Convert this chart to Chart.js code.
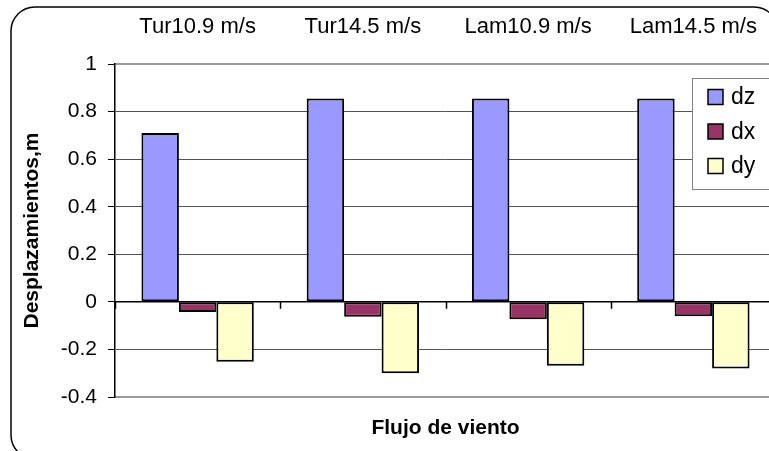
<!DOCTYPE html>
<html>
<head>
<meta charset="utf-8">
<script src="https://cdn.jsdelivr.net/npm/chart.js@4"></script>
<style>
  html, body { margin: 0; padding: 0; background: #fff; }
  #wrap { width: 769px; height: 451px; overflow: hidden; position: relative; }
  #box { width: 800px; height: 460px; position: absolute; left: 0; top: 0; }
</style>
</head>
<body>
<div id="wrap"><div id="box"><canvas id="myChart"></canvas></div></div>
<script>
const categories = ['Tur10.9 m/s', 'Tur14.5 m/s', 'Lam10.9 m/s', 'Lam14.5 m/s'];
const dz = [0.71, 0.855, 0.855, 0.855];
const dx = [-0.043, -0.063, -0.073, -0.061];
const dy = [-0.252, -0.30, -0.269, -0.28];
const yTicks = [-0.4, -0.2, 0, 0.2, 0.4, 0.6, 0.8, 1];

const FONT = "'Liberation Sans', Arial, sans-serif";

// frame, zero line ticks and legend drawn on top
const extras = {
  id: 'extras',
  afterDraw(chart) {
    const ctx = chart.ctx;
    const x = chart.scales.x;
    const y = chart.scales.y;
    const y0 = y.getPixelForValue(0);

    ctx.save();
    // zero line with category ticks
    ctx.strokeStyle = '#000';
    ctx.lineWidth = 1.5;
    ctx.beginPath();
    ctx.moveTo(chart.chartArea.left, y0);
    ctx.lineTo(chart.chartArea.right, y0);
    for (let i = 0; i <= categories.length; i++) {
      const px = Math.round(x.getPixelForValue(i - 0.5)) + 0.5;
      ctx.moveTo(px, y0);
      ctx.lineTo(px, y0 + 7);
    }
    ctx.stroke();

    // legend
    const lx = 692, ly = 78, lw = 77, lh = 111;
    ctx.fillStyle = '#fff';
    ctx.fillRect(lx, ly, lw, lh);
    ctx.strokeStyle = '#808080';
    ctx.lineWidth = 1;
    ctx.strokeRect(lx + 0.5, ly + 0.5, lw, lh);
    ctx.font = '23px ' + FONT;
    ctx.textBaseline = 'middle';
    chart.data.datasets.forEach((ds, i) => {
      const cy = 97 + i * 34.5;
      ctx.fillStyle = ds.backgroundColor;
      ctx.fillRect(708, cy - 7.5, 15, 15);
      ctx.strokeStyle = '#000';
      ctx.lineWidth = 1.5;
      ctx.strokeRect(708, cy - 7.5, 15, 15);
      ctx.fillStyle = '#000';
      ctx.fillText(ds.label, 731, cy + 1);
    });

    // rounded outer frame
    ctx.strokeStyle = '#000';
    ctx.lineWidth = 1.5;
    ctx.beginPath();
    ctx.roundRect(11, 7, 767, 452, 24);
    ctx.stroke();
    ctx.restore();
  }
};

const barStyle = { borderColor: '#000', borderWidth: 2, borderSkipped: false };

const ctx = document.getElementById('myChart').getContext('2d');
const chart = new Chart(ctx, {
  type: 'bar',
  data: {
    labels: categories,
    datasets: [
      { label: 'dz', data: dz, backgroundColor: '#9999FF', ...barStyle },
      { label: 'dx', data: dx, backgroundColor: '#993366', ...barStyle },
      { label: 'dy', data: dy, backgroundColor: '#FFFFCC', ...barStyle }
    ]
  },
  options: {
    responsive: true,
    maintainAspectRatio: false,
    animation: false,
    layout: { padding: { left: 0, right: 24, top: 0, bottom: 0 } },
    datasets: {
      bar: { categoryPercentage: 0.68, barPercentage: 1 }
    },
    plugins: {
      legend: { display: false },
      tooltip: { enabled: false }
    },
    scales: {
      x: {
        position: 'top',
        grid: { display: false, drawTicks: false },
        border: { display: true, color: '#999', width: 2 },
        ticks: { color: '#000', padding: 24, font: { family: FONT, size: 22 }, maxRotation: 0 },
        afterFit(scale) { scale.height = 64; }
      },
      x2: {
        position: 'bottom',
        labels: categories,
        grid: { display: false, drawTicks: false },
        border: { display: true, color: '#999', width: 2 },
        ticks: { display: false },
        title: {
          display: true,
          text: 'Flujo de viento',
          color: '#000',
          font: { family: FONT, size: 21, weight: 'bold' },
          padding: { top: 0, bottom: 19 }
        },
        afterFit(scale) { scale.height = 63; }
      },
      y: {
        min: -0.4,
        max: 1,
        afterBuildTicks(scale) { scale.ticks = yTicks.map(v => ({ value: v })); },
        grid: {
          color: c => (c.tick && (c.tick.value === 1 || c.tick.value === -0.4)) ? 'rgba(0,0,0,0)' : '#555',
          lineWidth: 1,
          tickLength: 7,
          tickColor: '#000'
        },
        border: { display: true, color: '#000', width: 1.5 },
        ticks: {
          color: '#000',
          padding: 11,
          font: { family: FONT, size: 21 },
          callback: v => String(v)
        },
        title: {
          display: true,
          text: 'Desplazamientos,m',
          color: '#000',
          font: { family: FONT, size: 21, weight: 'bold' },
          padding: { top: 20, bottom: 0 }
        },
        afterFit(scale) { scale.width = 115; }
      }
    }
  },
  plugins: [extras]
});
</script>
</body>
</html>
